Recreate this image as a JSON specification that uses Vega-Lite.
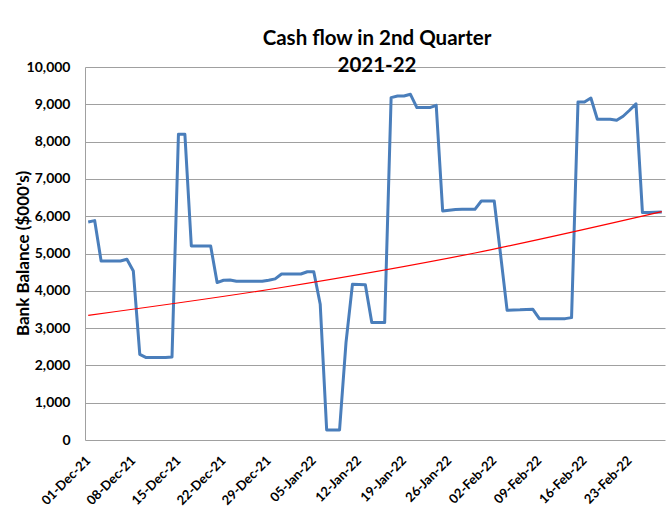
{
  "$schema": "https://vega.github.io/schema/vega-lite/v6.json",
  "width": 580,
  "height": 373,
  "autosize": "none",
  "padding": {"left": 85, "top": 67, "right": 2, "bottom": 70},
  "background": "white",
  "config": {
    "view": {"stroke": null},
    "font": "Lato"
  },
  "title": {
    "text": ["Cash flow in 2nd Quarter", "2021-22"],
    "font": "Lato",
    "fontSize": 20.5,
    "fontWeight": "bold",
    "color": "black",
    "lineHeight": 27,
    "anchor": "middle",
    "offset": -16,
    "dx": 2
  },
  "datasets": {
    "balance": [
      {"date": "2021-12-01", "value": 5845},
      {"date": "2021-12-02", "value": 5882},
      {"date": "2021-12-03", "value": 4800},
      {"date": "2021-12-04", "value": 4800},
      {"date": "2021-12-05", "value": 4800},
      {"date": "2021-12-06", "value": 4800},
      {"date": "2021-12-07", "value": 4845},
      {"date": "2021-12-08", "value": 4530},
      {"date": "2021-12-09", "value": 2297},
      {"date": "2021-12-10", "value": 2209},
      {"date": "2021-12-11", "value": 2209},
      {"date": "2021-12-12", "value": 2209},
      {"date": "2021-12-13", "value": 2209},
      {"date": "2021-12-14", "value": 2225},
      {"date": "2021-12-15", "value": 8196},
      {"date": "2021-12-16", "value": 8196},
      {"date": "2021-12-17", "value": 5201},
      {"date": "2021-12-18", "value": 5201},
      {"date": "2021-12-19", "value": 5201},
      {"date": "2021-12-20", "value": 5201},
      {"date": "2021-12-21", "value": 4220},
      {"date": "2021-12-22", "value": 4282},
      {"date": "2021-12-23", "value": 4290},
      {"date": "2021-12-24", "value": 4255},
      {"date": "2021-12-25", "value": 4255},
      {"date": "2021-12-26", "value": 4255},
      {"date": "2021-12-27", "value": 4255},
      {"date": "2021-12-28", "value": 4255},
      {"date": "2021-12-29", "value": 4285},
      {"date": "2021-12-30", "value": 4320},
      {"date": "2021-12-31", "value": 4450},
      {"date": "2022-01-01", "value": 4450},
      {"date": "2022-01-02", "value": 4450},
      {"date": "2022-01-03", "value": 4450},
      {"date": "2022-01-04", "value": 4510},
      {"date": "2022-01-05", "value": 4510},
      {"date": "2022-01-06", "value": 3638},
      {"date": "2022-01-07", "value": 268},
      {"date": "2022-01-08", "value": 268},
      {"date": "2022-01-09", "value": 268},
      {"date": "2022-01-10", "value": 2611},
      {"date": "2022-01-11", "value": 4174},
      {"date": "2022-01-12", "value": 4170},
      {"date": "2022-01-13", "value": 4165},
      {"date": "2022-01-14", "value": 3147},
      {"date": "2022-01-15", "value": 3147},
      {"date": "2022-01-16", "value": 3147},
      {"date": "2022-01-17", "value": 9180},
      {"date": "2022-01-18", "value": 9222},
      {"date": "2022-01-19", "value": 9222},
      {"date": "2022-01-20", "value": 9268},
      {"date": "2022-01-21", "value": 8911},
      {"date": "2022-01-22", "value": 8911},
      {"date": "2022-01-23", "value": 8911},
      {"date": "2022-01-24", "value": 8973},
      {"date": "2022-01-25", "value": 6139},
      {"date": "2022-01-26", "value": 6160},
      {"date": "2022-01-27", "value": 6180},
      {"date": "2022-01-28", "value": 6185},
      {"date": "2022-01-29", "value": 6185},
      {"date": "2022-01-30", "value": 6185},
      {"date": "2022-01-31", "value": 6408},
      {"date": "2022-02-01", "value": 6408},
      {"date": "2022-02-02", "value": 6408},
      {"date": "2022-02-03", "value": 4950},
      {"date": "2022-02-04", "value": 3477},
      {"date": "2022-02-05", "value": 3485},
      {"date": "2022-02-06", "value": 3490},
      {"date": "2022-02-07", "value": 3500},
      {"date": "2022-02-08", "value": 3504},
      {"date": "2022-02-09", "value": 3254},
      {"date": "2022-02-10", "value": 3254},
      {"date": "2022-02-11", "value": 3254},
      {"date": "2022-02-12", "value": 3254},
      {"date": "2022-02-13", "value": 3254},
      {"date": "2022-02-14", "value": 3281},
      {"date": "2022-02-15", "value": 9062},
      {"date": "2022-02-16", "value": 9062},
      {"date": "2022-02-17", "value": 9170},
      {"date": "2022-02-18", "value": 8598},
      {"date": "2022-02-19", "value": 8598},
      {"date": "2022-02-20", "value": 8598},
      {"date": "2022-02-21", "value": 8571},
      {"date": "2022-02-22", "value": 8680},
      {"date": "2022-02-23", "value": 8840},
      {"date": "2022-02-24", "value": 9010},
      {"date": "2022-02-25", "value": 6096},
      {"date": "2022-02-26", "value": 6100},
      {"date": "2022-02-27", "value": 6105},
      {"date": "2022-02-28", "value": 6113}
    ],
    "trend": [
      {"date": "2021-12-01", "value": 3343},
      {"date": "2021-12-31", "value": 4089},
      {"date": "2022-01-30", "value": 5014},
      {"date": "2022-02-28", "value": 6122}
    ]
  },
  "encoding": {
    "x": {
      "field": "date",
      "timeUnit": "utcyearmonthdate",
      "type": "temporal",
      "bandPosition": 0.5,
      "scale": {
        "domain": [
          {"year": 2021, "month": 12, "date": 1, "utc": true},
          {"year": 2022, "month": 3, "date": 1, "utc": true}
        ]
      },
      "axis": {
        "title": null,
        "format": "%d-%b-%y",
        "values": [
          {"year": 2021, "month": 12, "date": 1, "utc": true},
          {"year": 2021, "month": 12, "date": 8, "utc": true},
          {"year": 2021, "month": 12, "date": 15, "utc": true},
          {"year": 2021, "month": 12, "date": 22, "utc": true},
          {"year": 2021, "month": 12, "date": 29, "utc": true},
          {"year": 2022, "month": 1, "date": 5, "utc": true},
          {"year": 2022, "month": 1, "date": 12, "utc": true},
          {"year": 2022, "month": 1, "date": 19, "utc": true},
          {"year": 2022, "month": 1, "date": 26, "utc": true},
          {"year": 2022, "month": 2, "date": 2, "utc": true},
          {"year": 2022, "month": 2, "date": 9, "utc": true},
          {"year": 2022, "month": 2, "date": 16, "utc": true},
          {"year": 2022, "month": 2, "date": 23, "utc": true}
        ],
        "grid": false,
        "ticks": false,
        "domain": false,
        "labelAngle": -45,
        "labelAlign": "right",
        "labelBaseline": "middle",
        "labelPadding": 18,
        "labelOffset": 3,
        "labelFont": "Lato",
        "labelFontSize": 13,
        "labelFontWeight": "bold",
        "labelColor": "black",
        "labelOverlap": false
      }
    },
    "y": {
      "field": "value",
      "type": "quantitative",
      "scale": {"domain": [0, 10000], "nice": false},
      "axis": {
        "title": "Bank Balance ($000's)",
        "titleFont": "Lato",
        "titleFontSize": 17,
        "titleFontWeight": "bold",
        "titleColor": "black",
        "titleAngle": 270,
        "titleAlign": "center",
        "titleBaseline": "middle",
        "titleX": -62,
        "titleY": 186,
        "values": [0, 1000, 2000, 3000, 4000, 5000, 6000, 7000, 8000, 9000, 10000],
        "format": ",.0f",
        "labelOverlap": false,
        "grid": true,
        "gridColor": "#a0a0a0",
        "gridWidth": 1,
        "ticks": false,
        "domain": true,
        "domainColor": "#a0a0a0",
        "domainWidth": 1,
        "labelFont": "Lato",
        "labelFontSize": 14,
        "labelFontWeight": "bold",
        "labelColor": "black",
        "labelPadding": 15
      }
    }
  },
  "layer": [
    {
      "data": {"name": "balance"},
      "mark": {"type": "line", "color": "#4a7ebb", "strokeWidth": 3, "strokeJoin": "round"}
    },
    {
      "data": {"name": "trend"},
      "mark": {"type": "line", "color": "#ff0000", "strokeWidth": 1.2, "interpolate": "monotone"}
    }
  ]
}
